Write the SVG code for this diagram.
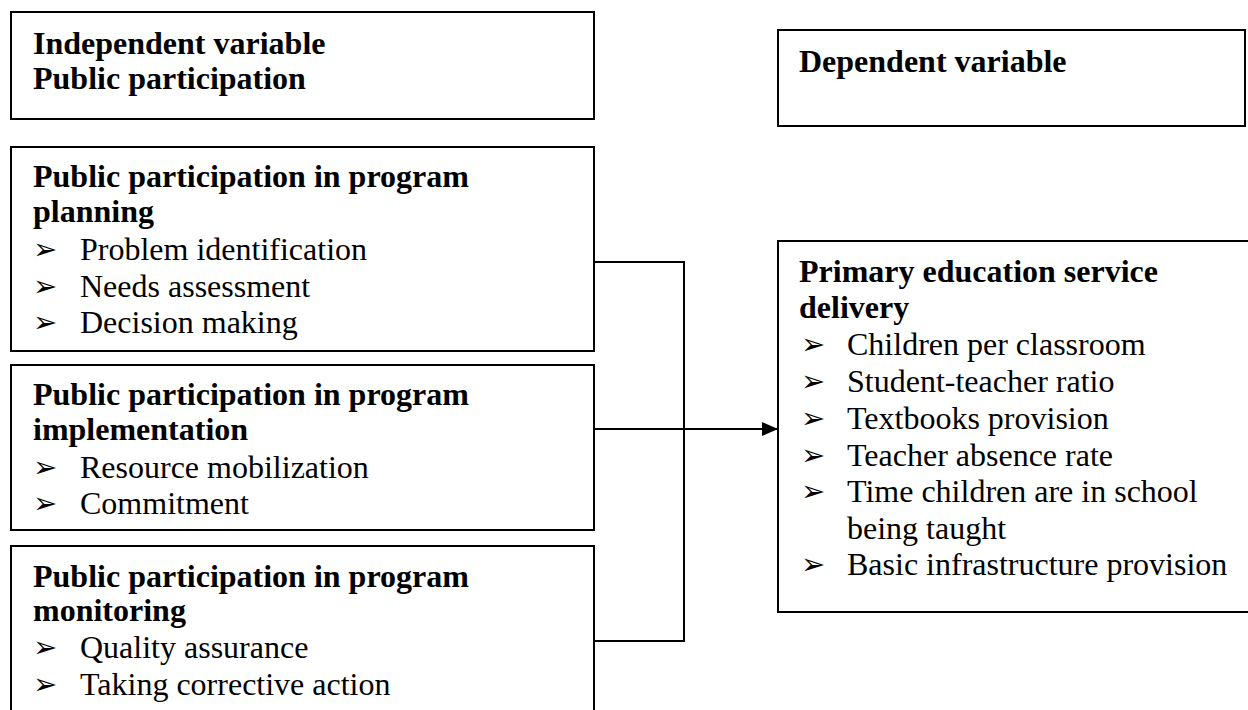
<svg xmlns="http://www.w3.org/2000/svg" width="1248" height="710" viewBox="0 0 1248 710">
<defs>
<style>
.box{fill:#fff;stroke:#000;stroke-width:2}
.h{font-family:"Liberation Serif","Times New Roman",serif;font-size:32px;font-weight:bold;fill:#000}
.t{font-family:"Liberation Serif","Times New Roman",serif;font-size:32px;fill:#000}
.b{font-family:"DejaVu Sans",sans-serif;font-size:29px;fill:#000}
.c{fill:none;stroke:#000;stroke-width:2}
</style>
<marker id="arr" markerWidth="16" markerHeight="14" refX="16" refY="7" orient="auto" markerUnits="userSpaceOnUse" viewBox="0 0 16 14">
<path d="M0,0 L16,7 L0,14 z" fill="#000"/>
</marker>
</defs>
<rect width="1248" height="710" fill="#fff"/>
<g id="independent">
<rect class="box" x="11" y="12" width="583" height="107"/>
<text class="h" x="33" y="54">Independent variable</text>
<text class="h" x="33" y="89">Public participation</text>
</g>
<g id="dependent">
<rect class="box" x="778" y="30" width="467" height="96"/>
<text class="h" x="799" y="72">Dependent variable</text>
</g>
<g id="planning">
<rect class="box" x="11" y="147" width="583" height="204"/>
<text class="h" x="33" y="187">Public participation in program</text>
<text class="h" x="33" y="222">planning</text>
<text class="b" x="33" y="259">➢</text><text class="t" x="80" y="260">Problem identification</text>
<text class="b" x="33" y="295.5">➢</text><text class="t" x="80" y="296.5">Needs assessment</text>
<text class="b" x="33" y="332">➢</text><text class="t" x="80" y="333">Decision making</text>
</g>
<g id="implementation">
<rect class="box" x="11" y="365" width="583" height="165"/>
<text class="h" x="33" y="405">Public participation in program</text>
<text class="h" x="33" y="440">implementation</text>
<text class="b" x="33" y="477">➢</text><text class="t" x="80" y="478">Resource mobilization</text>
<text class="b" x="33" y="513">➢</text><text class="t" x="80" y="514">Commitment</text>
</g>
<g id="monitoring">
<rect class="box" x="11" y="546" width="583" height="170"/>
<text class="h" x="33" y="587">Public participation in program</text>
<text class="h" x="33" y="621">monitoring</text>
<text class="b" x="33" y="657">➢</text><text class="t" x="80" y="658">Quality assurance</text>
<text class="b" x="33" y="694">➢</text><text class="t" x="80" y="695">Taking corrective action</text>
</g>
<g id="service-delivery">
<rect class="box" x="778" y="241" width="475" height="371"/>
<text class="h" x="799" y="282">Primary education service</text>
<text class="h" x="799" y="318">delivery</text>
<text class="b" x="801" y="354">➢</text><text class="t" x="847" y="355">Children per classroom</text>
<text class="b" x="801" y="391">➢</text><text class="t" x="847" y="392">Student-teacher ratio</text>
<text class="b" x="801" y="428">➢</text><text class="t" x="847" y="429">Textbooks provision</text>
<text class="b" x="801" y="464.5">➢</text><text class="t" x="847" y="465.5">Teacher absence rate</text>
<text class="b" x="801" y="501">➢</text><text class="t" x="847" y="502">Time children are in school</text>
<text class="t" x="847" y="538.5">being taught</text>
<text class="b" x="801" y="574">➢</text><text class="t" x="847" y="575">Basic infrastructure provision</text>
</g>
<g id="connectors">
<polyline class="c" points="594,262 684,262 684,641 594,641"/>
<line class="c" x1="594" y1="429" x2="778" y2="429" marker-end="url(#arr)"/>
</g>
</svg>
